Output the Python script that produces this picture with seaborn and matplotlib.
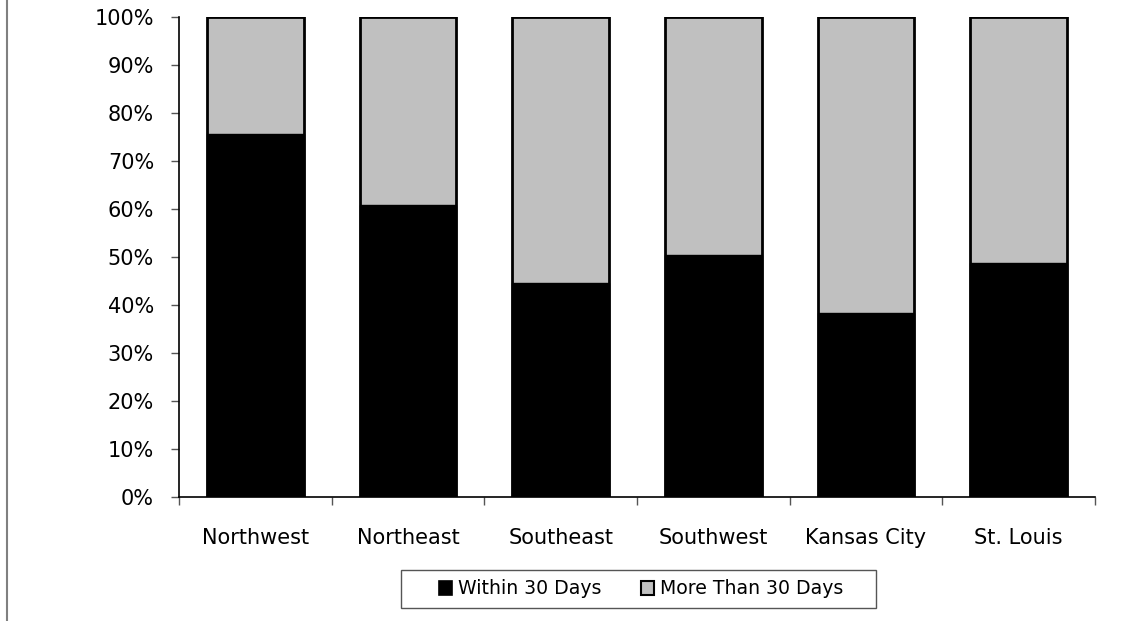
import matplotlib
matplotlib.use("Agg")
import matplotlib.pyplot as plt
from matplotlib.patches import Patch, Rectangle
from matplotlib.lines import Line2D
import seaborn as sns
import pandas as pd
import numpy as np

regions = ["Northwest", "Northeast", "Southeast", "Southwest", "Kansas City", "St. Louis"]
within_30 = [75.7, 60.9, 44.6, 50.4, 38.3, 48.7]
more_than_30 = [100 - v for v in within_30]
series_names = ["Within 30 Days", "More Than 30 Days"]
y_ticks = [0, 10, 20, 30, 40, 50, 60, 70, 80, 90, 100]

sns.set_theme(style="white")
plt.rcParams['font.family'] = ['DejaVu Sans']

df = pd.DataFrame({"region": regions, "within": within_30,
                   "total": [w + m for w, m in zip(within_30, more_than_30)]})

fig = plt.figure(figsize=(11.38, 6.21), dpi=100)
ax = fig.add_axes([179/1138, 1-497/621, (1095-179)/1138, (497-17)/621])

sns.barplot(data=df, x="region", y="total", color="#C0C0C0", edgecolor="black",
            linewidth=2, width=0.635, ax=ax, saturation=1)
sns.barplot(data=df, x="region", y="within", color="black", edgecolor="black",
            linewidth=1, width=0.635, ax=ax, saturation=1)

ax.set_xlim(-0.5, len(regions) - 0.5)
ax.set_ylim(0, 100)
ax.set_yticks(y_ticks)
ax.set_yticklabels([f"{t}%" for t in y_ticks], fontsize=15, color="black")
ax.set_xlabel("")
ax.set_ylabel("")
ax.set_xticks(range(len(regions)))
ax.set_xticklabels(regions, fontsize=15, color="black")
ax.set_xticks(np.arange(-0.5, len(regions)), minor=True)
ax.tick_params(axis="x", which="major", length=0, pad=22)
ax.tick_params(axis="x", which="minor", length=6, width=1, color="#555555", direction="out", bottom=True)
ax.tick_params(axis="y", which="major", length=6, width=1, color="#555555", direction="out", left=True, pad=12)

for s in ["top", "right"]:
    ax.spines[s].set_visible(False)
for s in ["left", "bottom"]:
    ax.spines[s].set_color("black")
    ax.spines[s].set_linewidth(1.2)

handles = [Patch(facecolor="black", edgecolor="black", linewidth=1.2),
           Patch(facecolor="#C0C0C0", edgecolor="black", linewidth=1.5)]
leg = fig.legend(handles, series_names, loc="center", bbox_to_anchor=(641/1138, 1-589/621),
                 ncol=2, frameon=False, fontsize=13.6, labelcolor="black",
                 handlelength=0.7, handleheight=0.7, handletextpad=0.3,
                 columnspacing=2.1, borderpad=0.3, borderaxespad=0)

fig.add_artist(Rectangle((401/1138, 1-608/621), 475/1138, 38/621, fill=False,
                         edgecolor="#555555", linewidth=1.0, transform=fig.transFigure))
fig.add_artist(Line2D([7/1138, 7/1138], [0, 1], transform=fig.transFigure,
                      color="#808080", linewidth=1.5))

fig.savefig("out.png", dpi=100, facecolor="white")
